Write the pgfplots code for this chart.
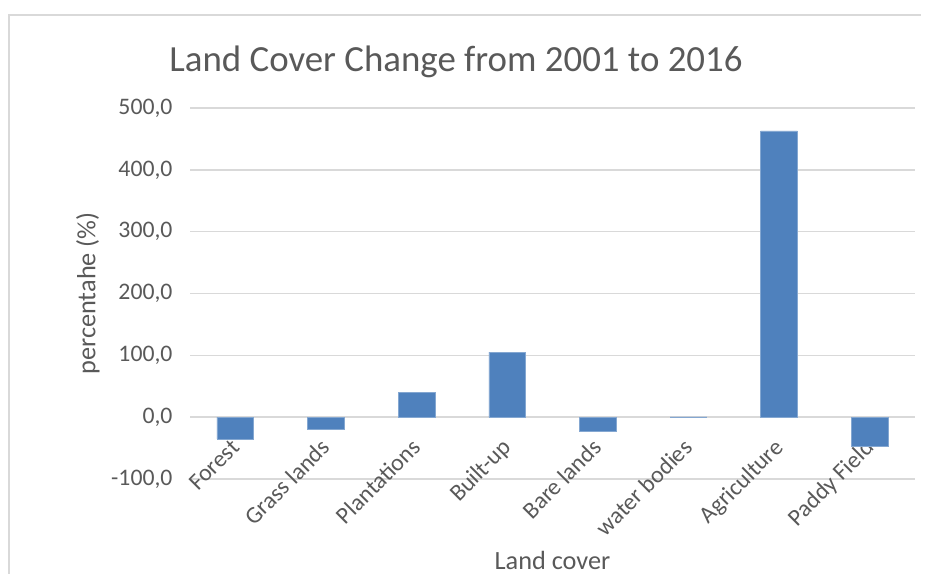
\documentclass[border=0pt]{standalone}
\usepackage{pgfplots}
\pgfplotsset{compat=1.18}
\usepackage{fontspec}
\setmainfont{Carlito}
\definecolor{barblue}{HTML}{4F81BD}
\definecolor{gridgray}{HTML}{D9D9D9}
\definecolor{txtgray}{HTML}{595959}
\begin{document}
\begin{tikzpicture}
\path[use as bounding box] (0,0) rectangle (929bp,574bp);
\draw[gridgray, line width=1.2bp] (9bp,0) -- (9bp,559bp) -- (921bp,559bp);
\node[anchor=base, text=txtgray, font=\fontsize{37}{44}\selectfont] at (456bp,502bp) {Land Cover Change from 2001 to 2016};
\begin{axis}[
  at={(190bp,95bp)}, anchor=south west,
  scale only axis, width=725bp, height=371bp,
  ybar, bar width=36.7bp, bar shift=0pt,
  xmin=-0.5, xmax=7.5, ymin=-100, ymax=500,
  xtick={0,...,7},
  xticklabels={Forest,Grass lands,Plantations,Built-up,Bare lands,water bodies,Agriculture,Paddy Field},
  ytick={-100,0,100,200,300,400,500},
  axis line style={draw=none},
  major tick length=0pt,
  ymajorgrids, grid style={gridgray, line width=1.4bp},
  /pgf/number format/.cd, fixed, fixed zerofill, precision=1, use comma, 1000 sep={}, assume math mode=true,
  /pgfplots/.cd,
  yticklabel style={text=txtgray, font=\fontsize{23.8}{28}\selectfont, xshift=-14bp},
  xticklabel style={text=txtgray, font=\fontsize{23.8}{28}\selectfont, inner sep=0pt, xshift=5.5bp, yshift=30bp, rotate=45, anchor=base east},
  xlabel={Land cover}, ylabel={percentahe (\%)},
  xlabel style={text=txtgray, font=\fontsize{26.4}{31}\selectfont, at={(rel axis cs:0.5,0)}, anchor=center, yshift=-81bp},
  ylabel style={text=txtgray, font=\fontsize{26.4}{31}\selectfont, at={(rel axis cs:0,0.5)}, anchor=center, yshift=102bp},
]
\addplot[fill=barblue, draw=barblue!70!white, line width=0.6bp] coordinates {
  (0,-35) (1,-20) (2,40.3) (3,105.3) (4,-22.6) (5,0.3) (6,462.8) (7,-46.9)
};
\end{axis}
\end{tikzpicture}
\end{document}
